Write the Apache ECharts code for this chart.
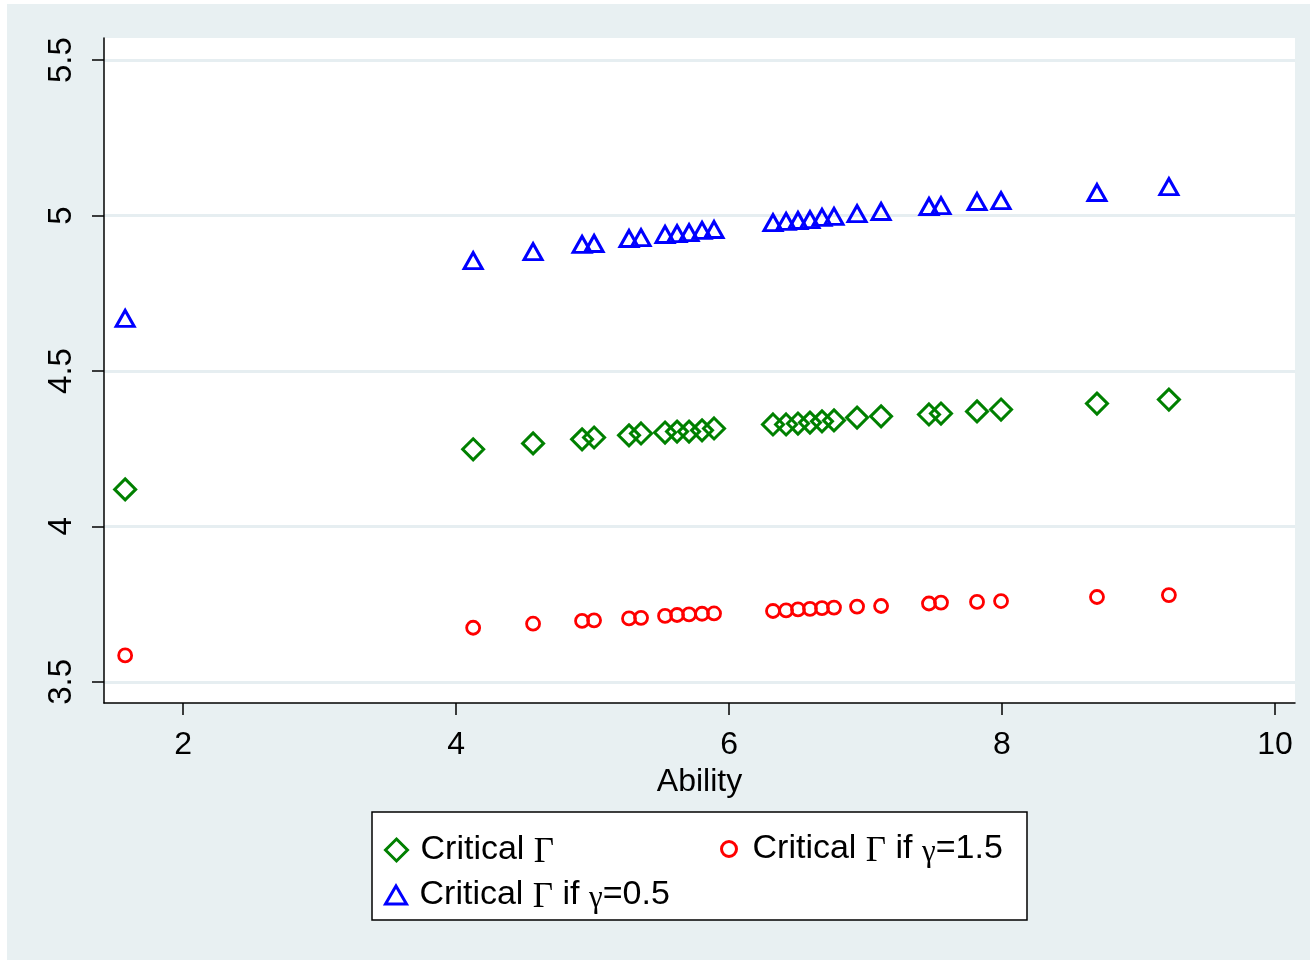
<!DOCTYPE html>
<html>
<head>
<meta charset="utf-8">
<script src="https://cdn.jsdelivr.net/npm/echarts@6/dist/echarts.min.js"></script>
<style>
  html, body { margin: 0; padding: 0; background: #fff; }
  #main { width: 1310px; height: 960px; }
</style>
</head>
<body>
<div id="main"></div>
<script>
// ability values (x), shared by all three series
var ability = [1.575, 4.125, 4.564, 4.923, 5.011, 5.267, 5.355, 5.531, 5.619, 5.707,
  5.802, 5.890, 6.322, 6.418, 6.505, 6.593, 6.681, 6.769, 6.938, 7.114,
  7.465, 7.553, 7.817, 7.993, 8.696, 9.223];
// critical Gamma
var critGamma = [4.119, 4.248, 4.267, 4.280, 4.286, 4.293, 4.299, 4.302, 4.305, 4.305,
  4.309, 4.315, 4.328, 4.328, 4.331, 4.334, 4.338, 4.341, 4.350, 4.354,
  4.360, 4.363, 4.370, 4.376, 4.395, 4.408];
// critical Gamma if gamma=0.5
var critGamma05 = [4.669, 4.855, 4.884, 4.907, 4.910, 4.926, 4.929, 4.939, 4.942, 4.945,
  4.952, 4.955, 4.977, 4.981, 4.984, 4.987, 4.994, 4.997, 5.006, 5.013,
  5.029, 5.032, 5.045, 5.048, 5.074, 5.093];
// critical Gamma if gamma=1.5
var critGamma15 = [3.585, 3.674, 3.687, 3.696, 3.698, 3.704, 3.706, 3.712, 3.715, 3.717,
  3.719, 3.720, 3.728, 3.730, 3.733, 3.735, 3.737, 3.739, 3.742, 3.744,
  3.752, 3.755, 3.757, 3.760, 3.773, 3.779];
var xTicks = [2, 4, 6, 8, 10];
var yTicks = [3.5, 4, 4.5, 5, 5.5];

var bg = '#e8f0f2';
var sans = 'Liberation Sans, Arial, sans-serif';
var serif = 'Liberation Serif, Times New Roman, serif';

function pairs(ys) {
  return ability.map(function (x, i) { return [x, ys[i]]; });
}

var names = ['Critical Γ', 'Critical Γ if γ=1.5', 'Critical Γ if γ=0.5'];
var richNames = {
  'Critical Γ': '{t|Critical }{g|Γ}',
  'Critical Γ if γ=1.5': '{t|Critical }{g|Γ}{t| if }{s|γ}{t|=1.5}',
  'Critical Γ if γ=0.5': '{t|Critical }{g|Γ}{t| if }{s|γ}{t|=0.5}'
};
var legendText = {
  color: '#000',
  padding: [0, 0, 0, 8],
  rich: {
    t: { fontFamily: sans, fontSize: 34, color: '#000' },
    g: { fontFamily: serif, fontSize: 35, color: '#000', padding: [6, 0, 0, 0] },
    s: { fontFamily: serif, fontSize: 31, color: '#000', padding: [8, 0, 0, 0] }
  }
};
function legendFor(name, left, top, w, h) {
  return {
    data: [name], left: left, top: top, padding: 0,
    itemWidth: w, itemHeight: h, orient: 'horizontal',
    selectedMode: false,
    itemStyle: { borderWidth: 3 },
    formatter: function (n) { return richNames[n]; },
    textStyle: legendText
  };
}

var myChart = echarts.init(document.getElementById('main'));
myChart.setOption({
  backgroundColor: '#fff',
  animation: false,
  graphic: [
    { type: 'rect', z: -10, silent: true, shape: { x: 7, y: 4, width: 1303, height: 956 }, style: { fill: bg } },
    { type: 'rect', z: 0, silent: true, shape: { x: 372, y: 812, width: 655, height: 108 }, style: { fill: '#fff', stroke: '#000', lineWidth: 1.5 } }
  ],
  grid: {
    left: 104, right: 15, top: 38, bottom: 257,
    show: true, backgroundColor: '#fff', borderWidth: 0
  },
  xAxis: {
    type: 'value', min: 1.42, max: 10.147,
    name: 'Ability', nameLocation: 'middle', nameGap: 50,
    nameTextStyle: { fontFamily: sans, fontSize: 32, color: '#000' },
    axisLine: { show: true, onZero: false, lineStyle: { color: '#000', width: 1.5 } },
    axisTick: { show: true, length: 12, customValues: xTicks, lineStyle: { color: '#000', width: 1.5 } },
    axisLabel: { customValues: xTicks, margin: 26, fontFamily: sans, fontSize: 32, color: '#000' },
    splitLine: { show: false }
  },
  yAxis: {
    type: 'value', min: 3.432, max: 5.571,
    axisLine: { show: true, onZero: false, lineStyle: { color: '#000', width: 1.5 } },
    axisTick: { show: true, length: 12, customValues: yTicks, lineStyle: { color: '#000', width: 1.5 } },
    axisLabel: { customValues: yTicks, rotate: 90, margin: 26, fontFamily: sans, fontSize: 33, color: '#000' },
    splitLine: { show: true, customValues: yTicks, lineStyle: { color: '#e6eef1', width: 3 } }
  },
  legend: [
    legendFor(names[0], 384, 833, 22, 22),
    legendFor(names[1], 720, 832, 21, 15),
    legendFor(names[2], 384, 878, 21, 18)
  ],
  series: [
    {
      name: names[0], type: 'scatter', data: pairs(critGamma),
      symbol: 'diamond', symbolSize: 21,
      itemStyle: { color: 'rgba(0,0,0,0)', borderColor: '#008000', borderWidth: 3, opacity: 1 }
    },
    {
      name: names[1], type: 'scatter', data: pairs(critGamma15),
      symbol: 'circle', symbolSize: 13,
      itemStyle: { color: 'rgba(0,0,0,0)', borderColor: '#ff0000', borderWidth: 2.8, opacity: 1 }
    },
    {
      name: names[2], type: 'scatter', data: pairs(critGamma05),
      symbol: 'triangle', symbolSize: [18, 16],
      itemStyle: { color: 'rgba(0,0,0,0)', borderColor: '#0000ff', borderWidth: 3, opacity: 1 }
    }
  ]
});
</script>
</body>
</html>
